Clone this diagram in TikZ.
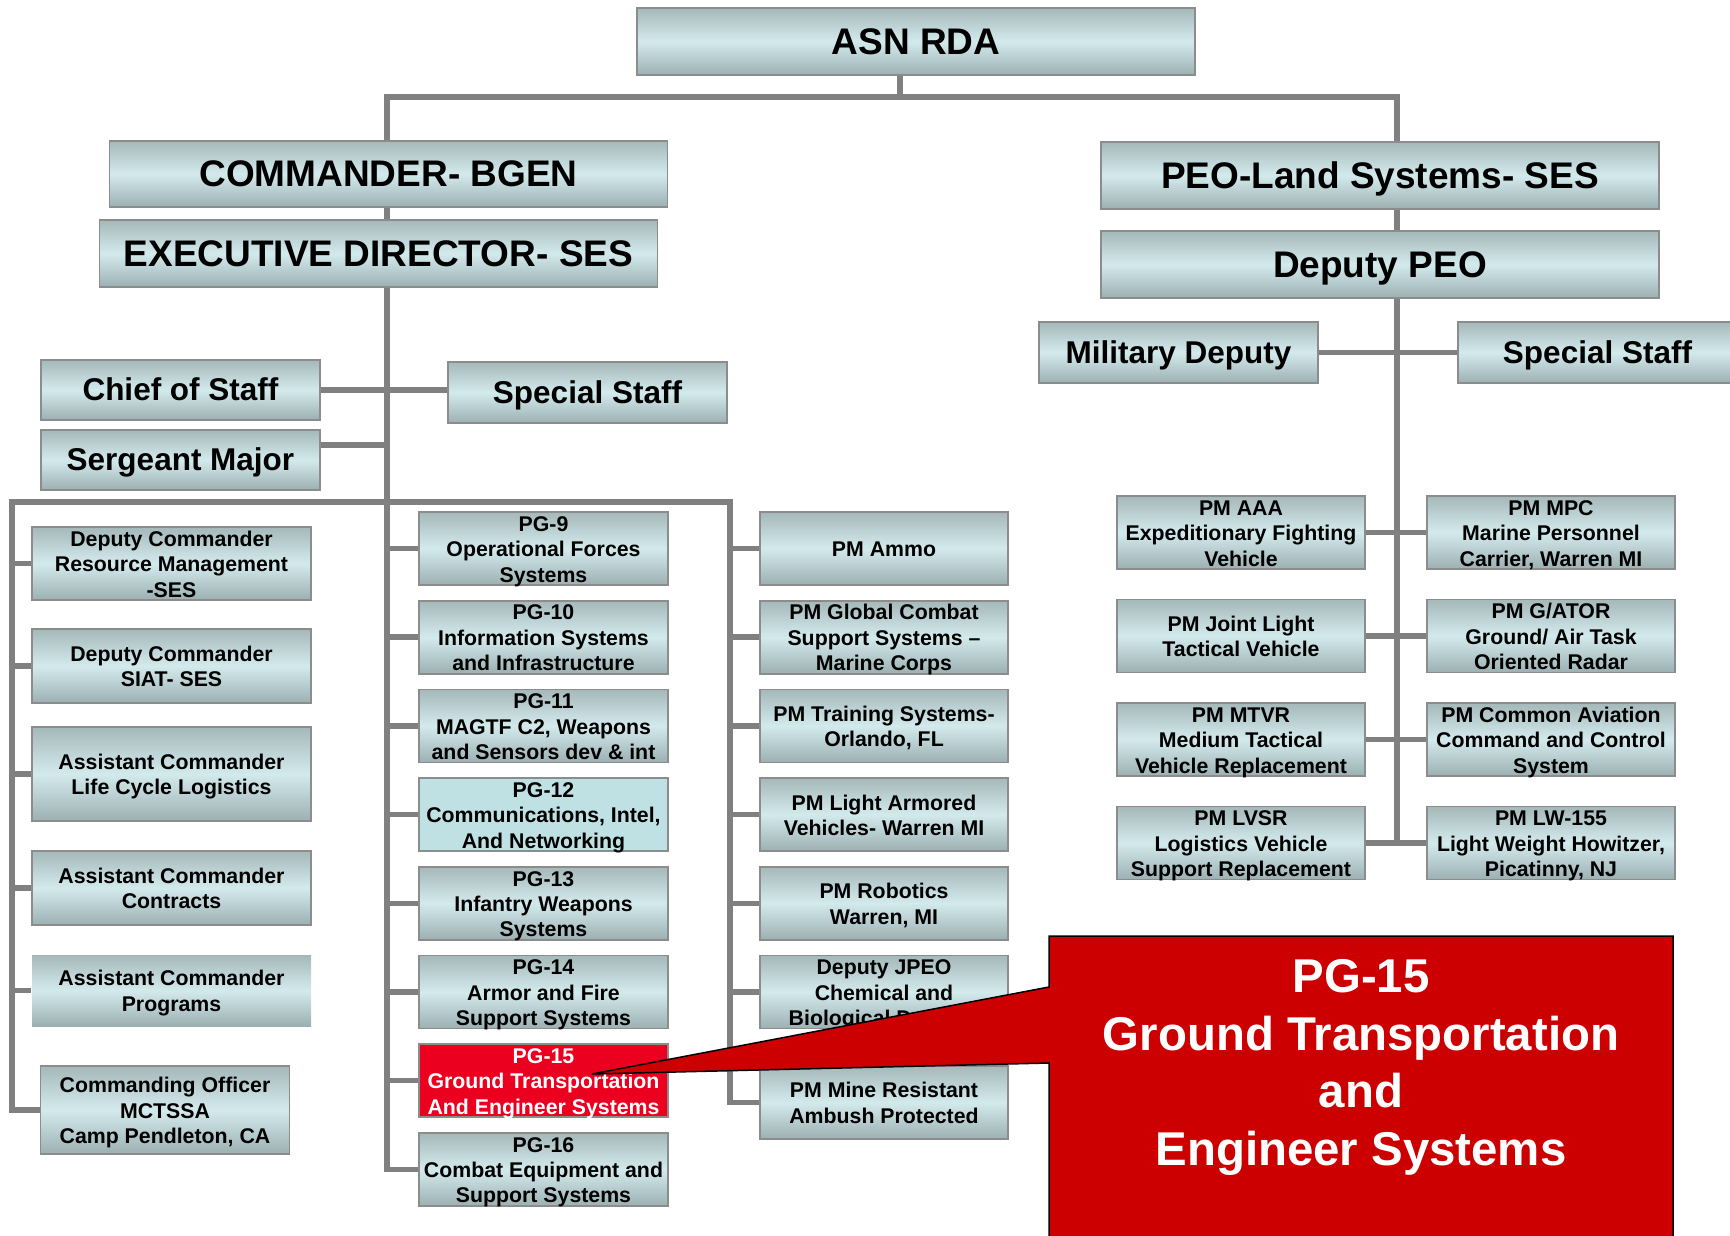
\documentclass[tikz,border=0pt]{standalone}
\usepackage{fontspec}
\setmainfont{Liberation Sans}
\usepackage{xcolor}
\usepackage{tikz}
\usetikzlibrary{
    positioning,
    calc
}
\definecolor{boxtop}{HTML}{A5B8BA}
\definecolor{boxmid}{HTML}{D3EAEC}
\definecolor{boxbot}{HTML}{9CB0B2}
\definecolor{boxline}{HTML}{8C8C8C}
\definecolor{linkgray}{HTML}{808080}
\definecolor{flatcyan}{HTML}{BFE1E4}
\definecolor{pgred}{HTML}{EC0020}
\definecolor{calloutred}{HTML}{CC0000}
\tikzset{
  basic/.style = {
      draw=boxline,
      line width=1.6pt,
      rectangle,
      inner sep=0pt,
      align=center,
      font=\bfseries,
      execute at begin node={\rule{0pt}{0.9em}},
      execute at end node={\rule[-0.21em]{0pt}{0pt}}
  },
  shaded/.style = {
      basic,
      top color=boxtop,
      bottom color=boxbot,
      middle color=boxmid
  },
  head/.style = {
      shaded,
      minimum width=558pt,
      minimum height=67pt,
      font=\fontsize{37}{44}\selectfont\bfseries
  },
  staff/.style = {
      shaded,
      minimum width=279pt,
      minimum height=61pt,
      font=\fontsize{31.5}{38}\selectfont\bfseries
  },
  unit/.style = {
      shaded,
      minimum width=249pt,
      minimum height=73pt,
      font=\fontsize{21.3}{25.4}\selectfont\bfseries,
      text height=70pt,
      text depth=3pt
  },
  lines2/.style = {
      text height=44.6pt
  },
  lines1/.style = {
      text height=19.2pt
  },
  office/.style = {
      unit,
      minimum width=279pt
  },
  flat/.style = {
      basic,
      minimum width=249pt,
      minimum height=73pt,
      fill=flatcyan,
      font=\fontsize{21.3}{25.4}\selectfont\bfseries,
      text height=70pt,
      text depth=3pt
  },
  hot/.style = {
      flat,
      fill=pgred,
      text=white
  },
  link/.style = {
      draw=linkgray,
      line width=5.5pt
  },
  callout/.style = {
      fill=calloutred,
      draw=black,
      line width=1.5pt
  },
  banner/.style = {
      text=white,
      align=center,
      font=\fontsize{47.4}{57.5}\selectfont\bfseries
  }
}

\begin{document}
\begin{tikzpicture}[x=1pt, y=-1pt, node distance=88.7pt]
        \useasboundingbox (0,0) rectangle (1730,1236);
        \clip (0,0) rectangle (1730,1236);
        % Heads
        \node[head] (asn) at (916,41.5) {ASN RDA};
        \node[head, minimum height=66pt] (cmd) at (388.5,174) {COMMANDER- BGEN};
        \node[head] (exec) at (378.5,253.5) {EXECUTIVE DIRECTOR- SES};
        \node[head] (peo) at (1380,175.5) {PEO-Land Systems- SES};
        \node[head] (dpeo) at (1380,264.5) {Deputy PEO};
        % Staff
        \node[staff, minimum height=60pt] (cos) at (180.5,390) {Chief of Staff};
        \node[staff] (sstaffL) at (587.5,392.5) {Special Staff};
        \node[staff, minimum height=60pt] (sgtmaj) at (180.5,460) {Sergeant Major};
        \node[staff] (mildep) at (1178.5,352.5) {Military Deputy};
        \node[staff] (sstaffR) at (1597.5,352.5) {Special Staff};
        % Left column
        \node[office] (dcrm) at (171.5,563.5) {Deputy Commander\\Resource Management\\-SES};
        \node[office, lines2, minimum height=74pt] (dcsiat) at (171.5,666) {Deputy Commander\\SIAT- SES};
        \node[office, lines2, minimum height=94pt] (aclcl) at (171.5,774) {Assistant Commander\\Life Cycle Logistics};
        \node[office, lines2, minimum height=74pt] (acctr) at (171.5,888) {Assistant Commander\\Contracts};
        \node[office, lines2, minimum height=71pt, draw=none] (acprog) at (171.5,990.5) {Assistant Commander\\Programs};
        \node[unit, minimum height=88pt] (co) at (165,1110) {Commanding Officer\\MCTSSA\\Camp Pendleton, CA};
        % Product groups
        \node[unit] (pg9) at (543.5,548.5) {PG-9\\Operational Forces\\Systems};
        \node[unit, below of=pg9] (pg10) {PG-10\\Information Systems\\and Infrastructure};
        \node[unit, below of=pg10] (pg11) {PG-11\\MAGTF C2, Weapons\\and Sensors dev \& int};
        \node[flat, below of=pg11] (pg12) {PG-12\\Communications, Intel,\\And Networking};
        \node[unit, below of=pg12] (pg13) {PG-13\\Infantry Weapons\\Systems};
        \node[unit, below of=pg13] (pg14) {PG-14\\Armor and Fire\\Support Systems};
        \node[hot, below of=pg14] (pg15) {PG-15\\Ground Transportation\\And Engineer Systems};
        \node[unit, below of=pg15] (pg16) {PG-16\\Combat Equipment and\\Support Systems};
        % Program managers
        \node[unit, lines1, minimum width=248pt] (ammo) at (884,548.5) {PM Ammo};
        \node[unit, minimum width=248pt, below of=ammo] (gcss) {PM Global Combat\\Support Systems --\\Marine Corps};
        \node[unit, lines2, minimum width=248pt, below of=gcss] (train) {PM Training Systems-\\Orlando, FL};
        \node[unit, lines2, minimum width=248pt, below of=train] (lav) {PM Light Armored\\Vehicles- Warren MI};
        \node[unit, lines2, minimum width=248pt, below of=lav] (robot) {PM Robotics\\Warren, MI};
        \node[unit, minimum width=248pt, below of=robot] (jpeo) {Deputy JPEO\\Chemical and\\Biological Defense};
        \node[unit, lines2, minimum width=248pt, node distance=110.5pt, below of=jpeo] (mrap) {PM Mine Resistant\\Ambush Protected};
        % PEO land systems
        \node[unit, minimum width=248pt] (aaa) at (1241,532.5) {PM AAA\\Expeditionary Fighting\\Vehicle};
        \node[unit, lines2, minimum width=248pt, node distance=103.5pt, below of=aaa] (jltv) {PM Joint Light\\Tactical Vehicle};
        \node[unit, minimum width=248pt, node distance=103.5pt, below of=jltv] (mtvr) {PM MTVR\\Medium Tactical\\Vehicle Replacement};
        \node[unit, minimum width=248pt, node distance=103.5pt, below of=mtvr] (lvsr) {PM LVSR\\Logistics Vehicle\\Support Replacement};
        \node[unit, minimum width=248pt] (mpc) at (1551,532.5) {PM MPC\\Marine Personnel\\Carrier, Warren MI};
        \node[unit, minimum width=248pt, node distance=103.5pt, below of=mpc] (gator) {PM G/ATOR\\Ground/ Air Task\\Oriented Radar};
        \node[unit, minimum width=248pt, node distance=103.5pt, below of=gator] (cac) {PM Common Aviation\\Command and Control\\System};
        \node[unit, minimum width=248pt, node distance=103.5pt, below of=cac] (lw) {PM LW-155\\Light Weight Howitzer,\\Picatinny, NJ};
        % Edges
        \coordinate (top) at (900,97);
        \coordinate (lspine) at (387,97);
        \coordinate (rspine) at (1397,97);
        \coordinate (lbus) at (12,502);
        \coordinate (lbusR) at (730,502);
        \draw[link] (asn.south -| top) -- (top);
        \draw[link] (cmd.north -| lspine) -- (lspine) -- (rspine) -- (peo.north -| rspine);
        \draw[link] (cmd.south -| lspine) -- (exec.north -| lspine);
        \draw[link] (peo.south -| rspine) -- (dpeo.north -| rspine);
        \draw[link] (exec.south -| lspine) |- (pg16.west);
        \draw[link] (dpeo.south -| rspine) -- (lvsr.east -| rspine);
        \draw[link] (cos.east) -- (cos.east -| sstaffL.west);
        \draw[link] ([yshift=15pt]sgtmaj.east) -- ([yshift=15pt]sgtmaj.east -| lspine);
        \draw[link] (mildep.east) -- (sstaffR.west);
        \draw[link] (co.west) -| (lbus) -- (lbusR) |- (mrap.west);
        \draw[link] (dcrm.west) -- (dcrm.west -| lbus);
        \draw[link] (dcsiat.west) -- (dcsiat.west -| lbus);
        \draw[link] (aclcl.west) -- (aclcl.west -| lbus);
        \draw[link] (acctr.west) -- (acctr.west -| lbus);
        \draw[link] (acprog.west) -- (acprog.west -| lbus);
        \draw[link] (pg9.west -| lspine) -- (pg9.west);
        \draw[link] (pg10.west -| lspine) -- (pg10.west);
        \draw[link] (pg11.west -| lspine) -- (pg11.west);
        \draw[link] (pg12.west -| lspine) -- (pg12.west);
        \draw[link] (pg13.west -| lspine) -- (pg13.west);
        \draw[link] (pg14.west -| lspine) -- (pg14.west);
        \draw[link] (pg15.west -| lspine) -- (pg15.west);
        \draw[link] (ammo.west -| lbusR) -- (ammo.west);
        \draw[link] (gcss.west -| lbusR) -- (gcss.west);
        \draw[link] (train.west -| lbusR) -- (train.west);
        \draw[link] (lav.west -| lbusR) -- (lav.west);
        \draw[link] (robot.west -| lbusR) -- (robot.west);
        \draw[link] (jpeo.west -| lbusR) -- (jpeo.west);
        \draw[link] (aaa.east) -- (mpc.west);
        \draw[link] (jltv.east) -- (gator.west);
        \draw[link] (mtvr.east) -- (cac.west);
        \draw[link] (lvsr.east) -- (lw.west);
        % Callout
        \coordinate (tip) at (592,1074);
        \draw[callout] (1049,936) -- (1673,936) -- (1673,1260) -- (1049,1260)
            -- (1049,1063) -- (tip) -- (1049,987) -- cycle;
        \node[banner] (banner) at (1361,1067.5) {PG-15\\Ground Transportation\\and\\Engineer Systems};
\end{tikzpicture}
\end{document}
